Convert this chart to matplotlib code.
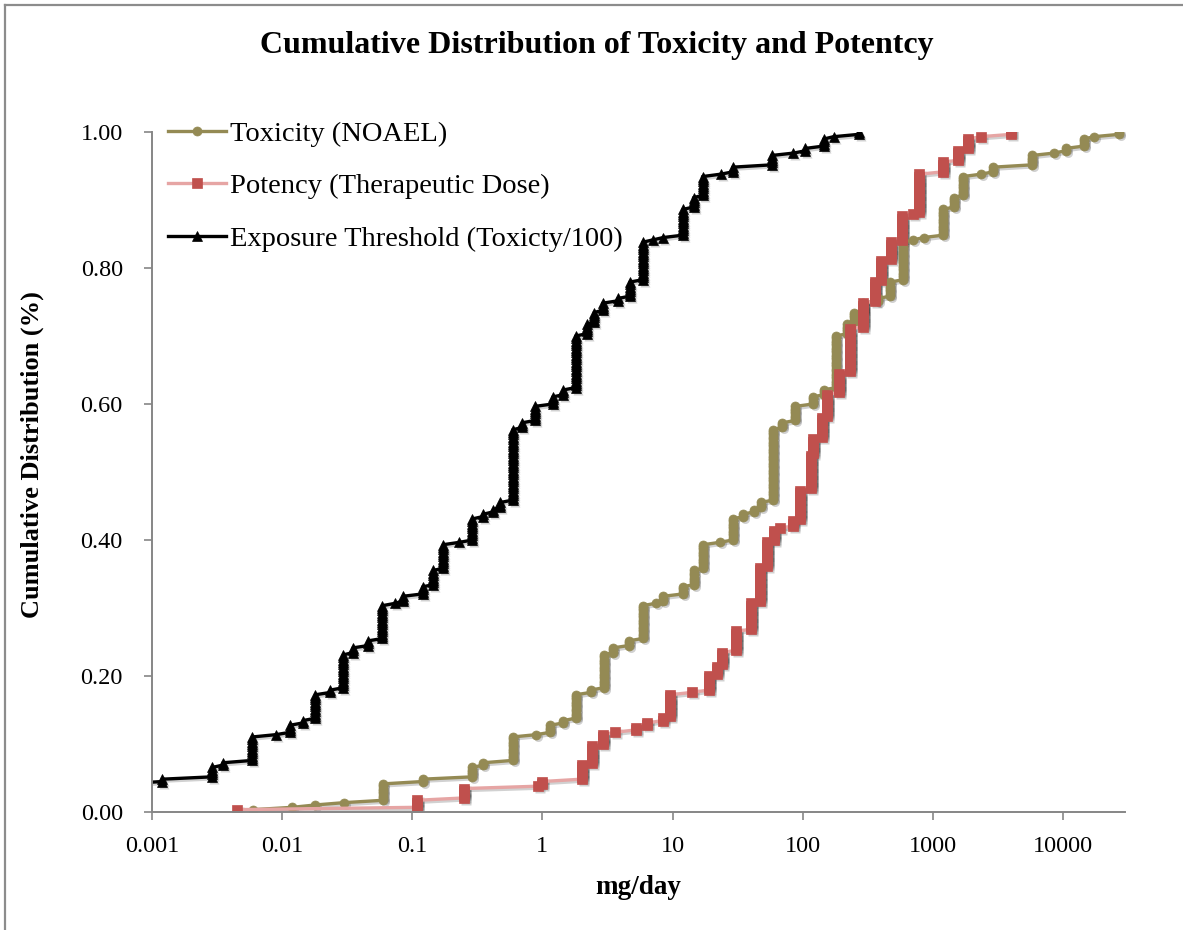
import numpy as np
import matplotlib
matplotlib.use("Agg")
import matplotlib.pyplot as plt
from matplotlib.lines import Line2D
from matplotlib.transforms import offset_copy
from matplotlib.ticker import FixedLocator, FixedFormatter, NullLocator

# doses (mg/day) and number of compounds at each dose
tox_dose = [0.006, 0.012, 0.018, 0.03, 0.06, 0.12, 0.29, 0.35, 0.59, 0.9,
            1.15, 1.45, 1.8, 2.35, 2.95, 3.5, 4.6, 5.9, 7.4, 8.5,
            12, 14.5, 17.3, 23, 29, 35, 42, 47.5, 59, 70,
            88, 120, 145, 180, 220, 250, 290, 380, 470, 590,
            710, 850, 1200, 1450, 1700, 2340, 2900, 5800, 8500, 10500,
            14500, 17300, 27000]
tox_count = [1, 1, 1, 1, 8, 2, 5, 2, 11, 1,
             4, 2, 11, 2, 15, 3, 3, 15, 1, 3,
             4, 7, 11, 1, 10, 2, 2, 3, 31, 3,
             7, 4, 3, 23, 5, 5, 4, 2, 7, 17,
             1, 1, 12, 5, 9, 1, 3, 5, 1, 2,
             4, 1, 2]

pot_dose = [0.0045, 0.109, 0.25, 0.92, 1.0, 2.0, 2.4, 2.9, 3.6, 5.2,
            6.4, 8.5, 9.6, 14, 19, 22, 24, 31, 40, 47,
            53, 60, 67, 85, 95, 115, 120, 140, 155, 190,
            230, 290, 360, 400, 475, 580, 710, 790, 1190, 1550,
            1860, 2340, 3980]
pot_count = [1, 4, 5, 1, 2, 7, 8, 5, 1, 2,
             2, 2, 10, 1, 7, 4, 6, 9, 12, 15,
             11, 5, 1, 3, 13, 15, 7, 9, 10, 9,
             19, 11, 9, 9, 8, 11, 1, 17, 5, 5,
             5, 1, 2]

safety_factor = 100
x_ticks = [0.001, 0.01, 0.1, 1, 10, 100, 1000, 10000]
x_labels = ["0.001", "0.01", "0.1", "1", "10", "100", "1000", "10000"]
y_ticks = [0.0, 0.2, 0.4, 0.6, 0.8, 1.0]


def ecdf(dose, count):
    x = np.repeat(np.array(dose, dtype=float), count)
    y = np.arange(1, len(x) + 1) / len(x)
    return x, y


tx, ty = ecdf(tox_dose, tox_count)
px, py = ecdf(pot_dose, pot_count)
ex, ey = tx / safety_factor, ty

fig = plt.figure(figsize=(11.83, 9.30), dpi=100)
ax = fig.add_axes([152 / 1183, 118 / 930, 973 / 1183, 680 / 930])

series = [
    (tx, ty, "Toxicity (NOAEL)", "#948A54", "#948A54", "o", 6.5),
    (px, py, "Potency (Therapeutic Dose)", "#E6A5A4", "#C0504D", "s", 6.8),
    (ex, ey, "Exposure Threshold (Toxicty/100)", "black", "black", "^", 6.8),
]

shadow = offset_copy(ax.transData, fig=fig, x=2, y=-2, units="dots")
for x, y, lab, lc, mc, mk, ms in series:
    ax.plot(x, y, color="black", alpha=0.18, lw=2.4, marker=mk, ms=ms,
            mec="none", transform=shadow, zorder=1)
    ax.plot(x, y, color=lc, lw=2.4, marker=mk, ms=ms, mfc=mc, mec=mc,
            mew=0.5, label=lab, zorder=2)

ax.set_xscale("log")
ax.set_xlim(0.001, 30000)
ax.set_ylim(0, 1.0)
ax.xaxis.set_major_locator(FixedLocator(x_ticks))
ax.xaxis.set_major_formatter(FixedFormatter(x_labels))
ax.xaxis.set_minor_locator(NullLocator())
ax.set_yticks(y_ticks)
ax.set_yticklabels([f"{v:.2f}" for v in y_ticks])

serif = "Liberation Serif"
for lbl in ax.get_xticklabels() + ax.get_yticklabels():
    lbl.set_fontfamily(serif)
    lbl.set_fontsize(17.5)
ax.tick_params(axis="both", direction="out", length=6, width=1.2,
               color="#868686")
ax.tick_params(axis="x", pad=11)
ax.tick_params(axis="y", pad=15)

for s in ["top", "right"]:
    ax.spines[s].set_visible(False)
for s in ["left", "bottom"]:
    ax.spines[s].set_color("#868686")
    ax.spines[s].set_linewidth(1.4)

ax.set_xlabel("mg/day", fontfamily=serif, fontsize=19.5, fontweight="bold",
              labelpad=13)
ax.set_ylabel("Cumulative Distribution (%)", fontfamily=serif, fontsize=19,
              fontweight="bold")
ax.yaxis.set_label_coords(-0.111, 0.525)
fig.text(597 / 1183, 1 - 45 / 930, "Cumulative Distribution of Toxicity and Potentcy",
         ha="center", va="center", fontfamily=serif, fontsize=23,
         fontweight="bold")

leg = ax.legend(loc="upper left", bbox_to_anchor=(0.016, 1.016), frameon=False,
                borderaxespad=0, borderpad=0, handlelength=2.05,
                handletextpad=0.15, labelspacing=0.93, numpoints=1,
                prop={"family": serif, "size": 20.5})

# outer chart frame (only top and left edges show in the picture)
fig.add_artist(Line2D([5 / 1183, 5 / 1183], [0, 1 - 5 / 930],
                      transform=fig.transFigure, color="#8c8c8c", lw=1.6))
fig.add_artist(Line2D([5 / 1183, 1], [1 - 5 / 930, 1 - 5 / 930],
                      transform=fig.transFigure, color="#8c8c8c", lw=1.6))

fig.savefig("out.png", dpi=100)
